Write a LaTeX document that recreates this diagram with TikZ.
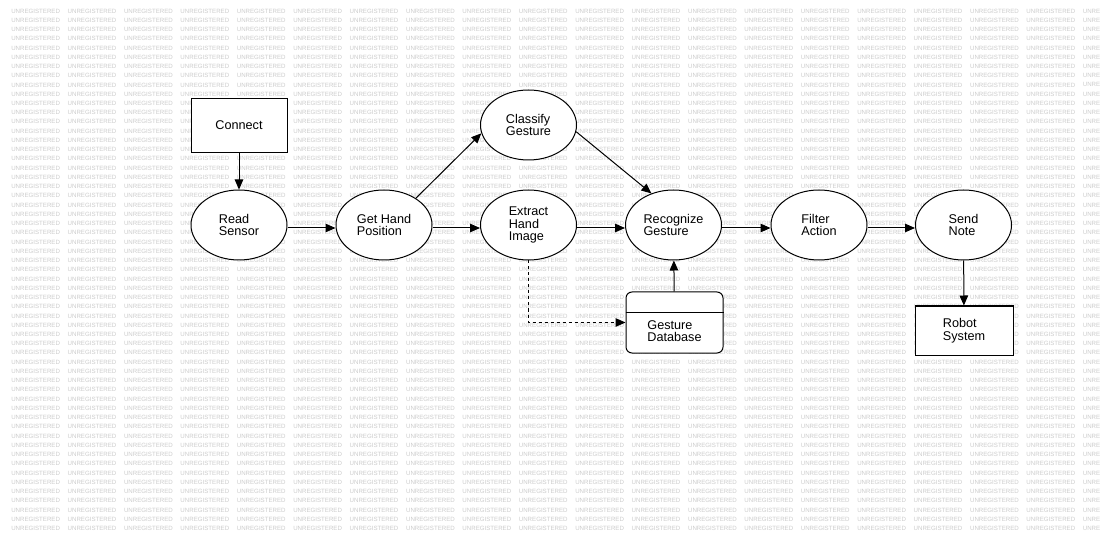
\documentclass[tikz,border=0pt]{standalone}
\usepackage{fontspec}
\setmainfont{Liberation Sans}
\usetikzlibrary{arrows.meta,shapes.geometric}
\begin{document}
\begin{tikzpicture}[x=0.75pt,y=-0.75pt,
  every node/.style={font=\fontsize{9.5}{9.5}\selectfont},
  proc/.style={ellipse, draw, line width=0.75pt, fill=white, minimum width=72pt, minimum height=52.5pt, inner sep=0pt, align=left},
  ext/.style={rectangle, draw, line width=0.75pt, fill=white, align=left, inner sep=0pt},
  flow/.style={draw, line width=0.75pt, -{Triangle[length=7.5pt,width=6.4pt]}},
  dflow/.style={flow, dash pattern=on 2.25pt off 2.25pt},
  wm/.style={font=\fontsize{4.6}{5}\selectfont, text=black!20, anchor=west, inner sep=0pt}]
\useasboundingbox (0,0) rectangle (1105,534);
\fill[white] (0,0) rectangle (1105,534);
% watermark
\foreach \k in {0,...,56}{
  \foreach \j in {0,...,18}{
    \node[wm] (wm-\j-\k) at ({11+56.4*\j},{11+9.24*\k}) {UNREGISTERED};
  }
  \node[wm] (wm-19-\k) at ({11+56.4*19},{11+9.24*\k}) {UNRE};
}
% nodes
\node[ext, minimum width=72pt, minimum height=40.5pt] (cn) at (239,125.5) {Connect};
\node[proc] (rs) at (239,225) {Read\\Sensor};
\node[proc] (gh) at (384,225) {Get Hand\\Position};
\node[proc] (cl) at (528.5,125) {Classify\\Gesture};
\node[proc] (ex) at (528.5,225) {Extract\\Hand\\Image};
\node[proc] (rg) at (673.5,225) {Recognize\\Gesture};
\node[proc] (fa) at (819,225) {Filter\\Action};
\node[proc] (sn) at (963.5,225) {Send\\Note};
\node[ext, minimum width=73.5pt, minimum height=36.75pt] (rb) at (964,330.5) {Robot\\System};
\node[ext, rounded corners=4.5pt, minimum width=72.75pt, minimum height=45.75pt] (db) at (674.5,322.5) {};
\draw[line width=0.75pt] ([yshift=-15.75pt]db.north west) -- ([yshift=-15.75pt]db.north east);
\node[align=left, inner sep=0pt] (dbt) at (674.5,331) {Gesture\\Database};
% connectors
\draw[flow] (cn) -- (rs);
\draw[flow] ([yshift=-2.25pt]rs.east) -- ([yshift=-2.25pt]gh.west);
\draw[flow] ([yshift=-2.25pt]gh.east) -- ([yshift=-2.25pt]ex.west);
\draw[flow] (gh.40) -- (cl.190);
\draw[flow] (cl.-8) -- (rg.125);
\draw[flow] ([yshift=-2.25pt]ex.east) -- ([yshift=-2.25pt]rg.west);
\draw[flow] ([yshift=-2.25pt]rg.east) -- ([yshift=-2.25pt]fa.west);
\draw[flow] ([yshift=-2.25pt]fa.east) -- ([yshift=-2.25pt]sn.west);
\draw[flow] (sn) -- (rb);
\draw[flow] (db) -- (rg);
\draw[dflow] (ex.south) |- (db.west);
\end{tikzpicture}
\end{document}
